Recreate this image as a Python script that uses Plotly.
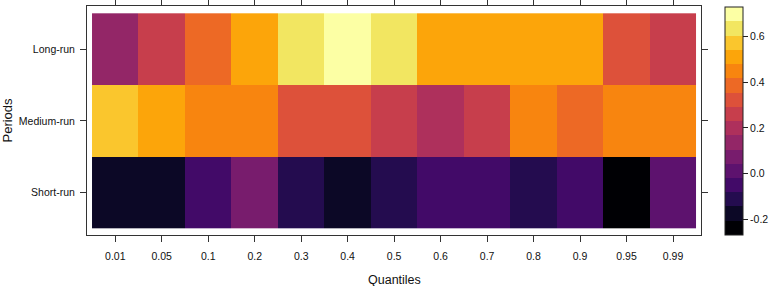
import plotly.graph_objects as go

quantiles = ["0.01", "0.05", "0.1", "0.2", "0.3", "0.4", "0.5", "0.6", "0.7", "0.8", "0.9", "0.95", "0.99"]
periods = ["Short-run", "Medium-run", "Long-run"]

short_run = [-0.18, -0.17, -0.05, 0.07, -0.11, -0.18, -0.12, -0.05, -0.05, -0.11, -0.05, -0.27, 0.01]
medium_run = [0.58, 0.51, 0.45, 0.45, 0.33, 0.32, 0.26, 0.20, 0.26, 0.45, 0.39, 0.45, 0.46]
long_run = [0.14, 0.26, 0.39, 0.51, 0.64, 0.73, 0.64, 0.51, 0.52, 0.51, 0.52, 0.32, 0.26]

cbar_ticks = [-0.2, 0.0, 0.2, 0.4, 0.6]
cbar_ticktext = ["-0.2", "0.0", "0.2", "0.4", "0.6"]

inferno16 = ["#000004", "#0C0826", "#240C4F", "#420A68", "#5D126E", "#781C6D",
             "#932667", "#AE305C", "#C73E4C", "#DD513A", "#ED6925", "#F8850F",
             "#FCA50A", "#FAC62D", "#F2E661", "#FCFFA4"]
n = len(inferno16)
colorscale = []
for k, c in enumerate(inferno16):
    colorscale.append([k / n, c])
    colorscale.append([(k + 1) / n, c])

FONT = "Liberation Sans, Arial, sans-serif"
TICK = dict(family=FONT, size=10.5, color="#111")

fig = go.Figure(go.Heatmap(
    x=quantiles,
    y=periods,
    z=[short_run, medium_run, long_run],
    zmin=-0.27, zmax=0.73,
    colorscale=colorscale,
    xgap=0, ygap=0,
    colorbar=dict(
        x=1.039, xanchor="left", xpad=0,
        y=0, yanchor="bottom", ypad=0,
        lenmode="pixels", len=228,
        thicknessmode="pixels", thickness=18,
        outlinewidth=1, outlinecolor="#222",
        tickmode="array", tickvals=cbar_ticks, ticktext=cbar_ticktext,
        ticks="outside", ticklen=5, tickcolor="#222",
        tickfont=TICK,
    ),
))

fig.update_layout(
    width=770, height=286,
    margin=dict(l=87, r=69, t=6, b=51, autoexpand=False),
    paper_bgcolor="white", plot_bgcolor="white",
    font=dict(family=FONT, size=10.5, color="#111"),
    xaxis=dict(
        type="category", range=[-0.608, 12.602],
        showline=True, linecolor="#333", linewidth=1, mirror="ticks",
        ticks="outside", ticklen=6, tickcolor="#333",
        showgrid=False, zeroline=False,
        tickfont=TICK,
        ticklabelstandoff=5,
    ),
    yaxis=dict(
        type="category", range=[-0.593, 2.602],
        showline=True, linecolor="#333", linewidth=1, mirror="ticks",
        ticks="outside", ticklen=6, tickcolor="#333",
        showgrid=False, zeroline=False,
        tickfont=TICK,
        ticklabelstandoff=3,
    ),
    annotations=[
        dict(text="Quantiles", xref="paper", yref="paper", x=0.5, y=0,
             xanchor="center", yanchor="middle", yshift=-45, showarrow=False,
             font=dict(family=FONT, size=12.5, color="#111")),
        dict(text="Periods", xref="paper", yref="paper", x=0, y=0.5,
             xanchor="center", yanchor="middle", xshift=-80, textangle=-90,
             showarrow=False, font=dict(family=FONT, size=13, color="#111")),
    ],
)

fig.write_html(
    "out.html",
    config={"displayModeBar": False},
    post_script="document.body.style.margin='0';document.body.style.overflow='hidden';",
)
